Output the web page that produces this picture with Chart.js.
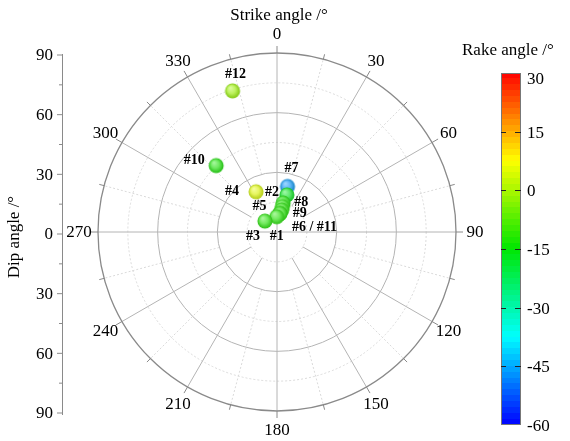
<!DOCTYPE html>
<html>
<head>
<meta charset="utf-8">
<script src="https://cdn.jsdelivr.net/npm/chart.js@4/dist/chart.umd.min.js"></script>
<style>
  html, body { margin: 0; padding: 0; background: #fff; }
  #wrap { width: 570px; height: 441px; position: relative; }
</style>
</head>
<body>
<div id="wrap"><canvas id="c"></canvas></div>
<script>
// Focal mechanism solutions: strike, dip and rake angle of each case (degrees)
const caseLabels   = ['#1', '#2', '#3', '#4', '#5', '#6', '#7', '#8', '#9', '#10', '#11', '#12'];
const strikeAngles = [359, 15, 312, 332.5, 12, 9, 13, 12, 12, 317.5, 9, 342.5];
const dipAngles    = [7.7, 19.3, 8.2, 22.8, 13.1, 9.4, 23.5, 14.9, 11.3, 45.3, 9.4, 74.4];
const rakeAngles   = [-12, -17, -12, 5, -12, -12, -47, -13, -12, -13, -12, -1];

// Axis ticks
const strikeTicks = [0, 30, 60, 90, 120, 150, 180, 210, 240, 270, 300, 330];
const dipTicks    = [-90, -75, -60, -45, -30, -15, 0, 15, 30, 45, 60, 75, 90];
const rakeTicks   = [30, 15, 0, -15, -30, -45, -60];
const rakeMin = -60, rakeMax = 30;

// Case-label placement (pixel offsets from each point); "#6" and "#11" share one label
const labelLayout = {
  '#1':  { dx: 0,   dy: 20,  align: 'center' },
  '#2':  { dx: -15, dy: -3,  align: 'center' },
  '#3':  { dx: -12, dy: 15,  align: 'center' },
  '#4':  { dx: -24, dy: 0,   align: 'center' },
  '#5':  { dx: -23, dy: 0,   align: 'center' },
  '#6':  { dx: 12,  dy: 14,  align: 'left', text: '#6 / #11' },
  '#7':  { dx: 4,   dy: -18, align: 'center' },
  '#8':  { dx: 18,  dy: -1,  align: 'center' },
  '#9':  { dx: 18,  dy: 3,   align: 'center' },
  '#10': { dx: -22, dy: -5,  align: 'center' },
  '#12': { dx: 3,   dy: -16, align: 'center' }
};

const SERIF = '"Liberation Serif", "Times New Roman", serif';

// Rainbow colour map: blue -> cyan -> green -> yellow -> red
function rakeColor(v) {
  let f = (v - rakeMin) / (rakeMax - rakeMin);
  f = Math.max(0, Math.min(1, f));
  const stops = [[0, 0, 255], [0, 255, 255], [0, 230, 0], [255, 255, 0], [255, 0, 0]];
  const s = f * 4, i = Math.min(3, Math.floor(s)), t = s - i;
  const a = stops[i], b = stops[i + 1];
  return [0, 1, 2].map(k => Math.round(a[k] + (b[k] - a[k]) * t));
}
function mix(c, w, t) { return c.map((v, k) => Math.round(v + (w[k] - v) * t)); }
function rgb(c) { return 'rgb(' + c.join(',') + ')'; }

// Shaded sphere marker
function sphereImage(v) {
  const r = 7.5, size = 18;
  const cv = document.createElement('canvas');
  cv.width = size; cv.height = size;
  const g = cv.getContext('2d');
  const base = rakeColor(v);
  const cx = size / 2, cy = size / 2;
  const grad = g.createRadialGradient(cx - r * 0.3, cy - r * 0.4, r * 0.1, cx, cy, r);
  grad.addColorStop(0, rgb(mix(base, [255, 255, 255], 0.6)));
  grad.addColorStop(0.5, rgb(mix(base, [235, 235, 235], 0.4)));
  grad.addColorStop(1, rgb(mix(base, [60, 90, 60], 0.3)));
  g.fillStyle = grad;
  g.beginPath(); g.arc(cx, cy, r, 0, Math.PI * 2); g.fill();
  return cv;
}

function toXY(strike, dip) {
  const a = strike * Math.PI / 180;
  return { x: dip * Math.sin(a), y: dip * Math.cos(a) };
}

// Build points, drawing upper cases first so lower ones overlap them
const points = caseLabels.map((name, i) => Object.assign(toXY(strikeAngles[i], dipAngles[i]), {
  name, rake: rakeAngles[i]
}));
points.sort((p, q) => q.y - p.y);

const polarGrid = {
  id: 'polarGrid',
  beforeDatasetsDraw(chart) {
    const ctx = chart.ctx, xs = chart.scales.x, ys = chart.scales.y;
    const cx = xs.getPixelForValue(0), cy = ys.getPixelForValue(0);
    const rad = d => xs.getPixelForValue(d) - cx;
    const R = rad(90);
    ctx.save();
    // dashed circles
    ctx.setLineDash([2, 2]);
    ctx.strokeStyle = '#dadada'; ctx.lineWidth = 1;
    [15, 45, 75].forEach(d => { ctx.beginPath(); ctx.arc(cx, cy, rad(d), 0, Math.PI * 2); ctx.stroke(); });
    // dashed radials every 15 deg between main spokes
    for (let s = 15; s < 360; s += 30) {
      const a = s * Math.PI / 180;
      ctx.beginPath();
      ctx.moveTo(cx + rad(30) * Math.sin(a), cy - rad(30) * Math.cos(a));
      ctx.lineTo(cx + R * Math.sin(a), cy - R * Math.cos(a));
      ctx.stroke();
    }
    ctx.setLineDash([]);
    // solid circles
    ctx.strokeStyle = '#b4b4b4';
    [30, 60].forEach(d => { ctx.beginPath(); ctx.arc(cx, cy, rad(d), 0, Math.PI * 2); ctx.stroke(); });
    // main spokes
    strikeTicks.forEach(s => {
      const a = s * Math.PI / 180;
      const r0 = (s % 90 === 0) ? 0 : rad(15);
      ctx.beginPath();
      ctx.moveTo(cx + r0 * Math.sin(a), cy - r0 * Math.cos(a));
      ctx.lineTo(cx + R * Math.sin(a), cy - R * Math.cos(a));
      ctx.stroke();
    });
    // outer rim with tick marks
    ctx.strokeStyle = '#8a8a8a'; ctx.lineWidth = 1.3;
    ctx.beginPath(); ctx.arc(cx, cy, R, 0, Math.PI * 2); ctx.stroke();
    ctx.lineWidth = 1;
    for (let s = 0; s < 360; s += 15) {
      const a = s * Math.PI / 180, len = (s % 30 === 0) ? 7 : 5;
      ctx.beginPath();
      ctx.moveTo(cx + R * Math.sin(a), cy - R * Math.cos(a));
      ctx.lineTo(cx + (R + len) * Math.sin(a), cy - (R + len) * Math.cos(a));
      ctx.stroke();
    }
    // strike labels
    ctx.fillStyle = '#000'; ctx.font = '17px ' + SERIF;
    ctx.textAlign = 'center'; ctx.textBaseline = 'middle';
    strikeTicks.forEach(s => {
      const a = s * Math.PI / 180, rl = R + 19;
      ctx.fillText(String(s), cx + rl * Math.sin(a), cy - rl * Math.cos(a) + 1);
    });
    ctx.fillText('Strike angle /\u00B0', cx + 2, 16);
    ctx.restore();
  },
  afterDatasetsDraw(chart) {
    const ctx = chart.ctx, meta = chart.getDatasetMeta(0);
    ctx.save();
    ctx.fillStyle = '#000'; ctx.font = 'bold 14px ' + SERIF; ctx.textBaseline = 'middle';
    meta.data.forEach((el, i) => {
      const p = points[i], L = labelLayout[p.name];
      if (!L) return;
      ctx.textAlign = L.align;
      ctx.fillText(L.text || p.name, el.x + L.dx, el.y + L.dy);
    });
    ctx.restore();
  },
  afterDraw(chart) {
    const ctx = chart.ctx, ys = chart.scales.y;
    ctx.save();
    // dip angle axis
    const ax = 62;
    ctx.strokeStyle = '#8a8a8a'; ctx.lineWidth = 1;
    ctx.beginPath(); ctx.moveTo(ax + 0.5, ys.getPixelForValue(90) + 1); ctx.lineTo(ax + 0.5, ys.getPixelForValue(-90) + 4); ctx.stroke();
    ctx.fillStyle = '#000'; ctx.font = '17px ' + SERIF;
    ctx.textAlign = 'right'; ctx.textBaseline = 'middle';
    dipTicks.forEach(v => {
      const y = ys.getPixelForValue(v) + 2;
      const major = v % 30 === 0;
      ctx.beginPath(); ctx.moveTo(ax, y); ctx.lineTo(ax - (major ? 5 : 3), y); ctx.stroke();
      if (major) ctx.fillText(String(Math.abs(v)), ax - 9, y + 1);
    });
    ctx.save();
    ctx.translate(15, 237); ctx.rotate(-Math.PI / 2);
    ctx.textAlign = 'center';
    ctx.fillText('Dip angle /\u00B0', 0, 0);
    ctx.restore();

    // rake angle colour bar
    const bx = 501, bw = 20, bt = 73, bb = 425;
    const vy = v => bt + (rakeMax - v) / (rakeMax - rakeMin) * (bb - bt);
    const bands = 60;
    for (let i = 0; i < bands; i++) {
      const v0 = rakeMax - i * (rakeMax - rakeMin) / bands;
      const v1 = rakeMax - (i + 1) * (rakeMax - rakeMin) / bands;
      ctx.fillStyle = rgb(rakeColor((v0 + v1) / 2));
      const y0 = Math.floor(vy(v0)), y1 = Math.ceil(vy(v1));
      ctx.fillRect(bx, y0, bw, y1 - y0);
    }
    ctx.strokeStyle = '#777'; ctx.lineWidth = 1;
    ctx.strokeRect(bx + 0.5, bt + 0.5, bw - 1, bb - bt - 1);
    ctx.strokeStyle = '#222';
    ctx.fillStyle = '#000'; ctx.textAlign = 'left'; ctx.font = '17px ' + SERIF;
    rakeTicks.forEach(v => {
      const y = Math.round(vy(v)) + 0.5;
      if (v !== rakeMax && v !== rakeMin) {
        ctx.beginPath(); ctx.moveTo(bx, y); ctx.lineTo(bx + 5, y); ctx.stroke();
        ctx.beginPath(); ctx.moveTo(bx + bw - 6, y); ctx.lineTo(bx + bw, y); ctx.stroke();
      }
      const ly = v === rakeMax ? y + 6 : y + 1;
      ctx.fillText(String(v), bx + bw + 6, ly);
    });
    ctx.fillText('Rake angle /\u00B0', 462, 51);
    ctx.restore();
  }
};

new Chart(document.getElementById('c'), {
  type: 'scatter',
  data: {
    datasets: [{
      data: points.map(p => ({ x: p.x, y: p.y })),
      pointStyle: points.map(p => sphereImage(p.rake)),
      pointRadius: 8,
      pointHoverRadius: 8
    }]
  },
  options: {
    responsive: true,
    maintainAspectRatio: false,
    animation: false,
    events: [],
    layout: { padding: { left: 98, right: 114, top: 53, bottom: 30 } },
    plugins: { legend: { display: false }, tooltip: { enabled: false } },
    scales: {
      x: { type: 'linear', min: -90, max: 90, display: false },
      y: { type: 'linear', min: -90, max: 90, display: false }
    }
  },
  plugins: [polarGrid]
});
</script>
</body>
</html>
